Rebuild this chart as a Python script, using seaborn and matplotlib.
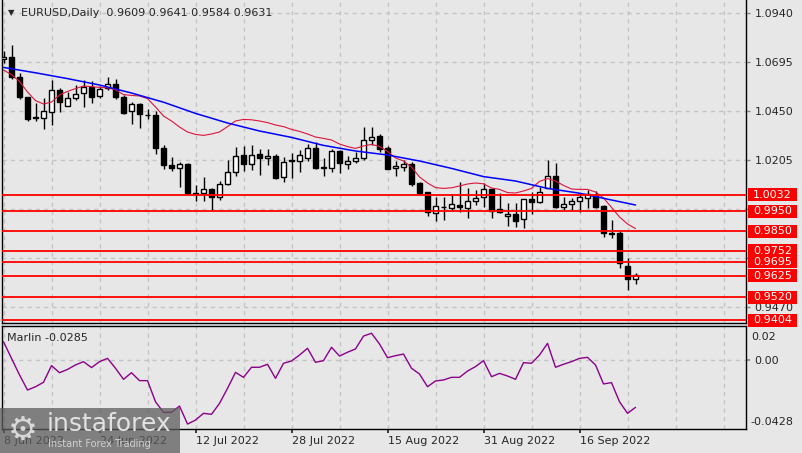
import numpy as np
import pandas as pd
import matplotlib
matplotlib.use('Agg')
import matplotlib.pyplot as plt
import matplotlib.transforms as mtransforms
from matplotlib.patches import Rectangle
import seaborn as sns

# daily EURUSD candles, 8 Jun 2022 .. 27 Sep 2022
opens = [1.0708, 1.0722, 1.0622, 1.0520, 1.0420, 1.0417, 1.0447, 1.0553, 1.0477, 1.0513,
         1.0538, 1.0570, 1.0527, 1.0563, 1.0586, 1.0520, 1.0450, 1.0486, 1.0432, 1.0428,
         1.0266, 1.0182, 1.0163, 1.0186, 1.0042, 1.0039, 1.0062, 1.0019, 1.0085, 1.0147,
         1.0230, 1.0183, 1.0233, 1.0213, 1.0225, 1.0118, 1.0205, 1.0200, 1.0213, 1.0267,
         1.0166, 1.0167, 1.0250, 1.0183, 1.0200, 1.0217, 1.0305, 1.0325, 1.0267, 1.0163,
         1.0172, 1.0183, 1.0092, 1.0047, 0.9942, 0.9968, 0.9967, 0.9980, 0.9967, 1.0000,
         1.0019, 1.0058, 0.9960, 0.9925, 0.9935, 0.9909, 1.0008, 0.9997, 1.0063, 1.0125,
         0.9972, 0.9983, 1.0001, 1.0013, 1.0025, 0.9975, 0.9836, 0.9838, 0.9675, 0.9609]
highs = [1.0752, 1.0778, 1.0640, 1.0522, 1.0488, 1.0515, 1.0604, 1.0563, 1.0546, 1.0582,
         1.0607, 1.0600, 1.0575, 1.0620, 1.0608, 1.0528, 1.0495, 1.0488, 1.0462, 1.0452,
         1.0278, 1.0220, 1.0195, 1.0190, 1.0080, 1.0122, 1.0066, 1.0100, 1.0203, 1.0270,
         1.0275, 1.0280, 1.0260, 1.0258, 1.0235, 1.0220, 1.0240, 1.0254, 1.0283, 1.0293,
         1.0213, 1.0262, 1.0255, 1.0227, 1.0243, 1.0372, 1.0370, 1.0333, 1.0273, 1.0200,
         1.0205, 1.0197, 1.0094, 1.0047, 1.0020, 1.0020, 1.0035, 1.0097, 1.0063, 1.0055,
         1.0088, 1.0060, 1.0042, 0.9988, 0.9992, 1.0010, 1.0047, 1.0072, 1.0205, 1.0188,
         1.0019, 1.0017, 1.0036, 1.0055, 1.0050, 0.9980, 0.9905, 0.9851, 0.9713, 0.9641]
lows = [1.0688, 1.0612, 1.0508, 1.0398, 1.0398, 1.0360, 1.0380, 1.0447, 1.0476, 1.0505,
        1.0470, 1.0490, 1.0515, 1.0555, 1.0510, 1.0435, 1.0385, 1.0366, 1.0410, 1.0236,
        1.0162, 1.0148, 1.0072, 1.0037, 1.0000, 0.9998, 0.9953, 1.0005, 1.0080, 1.0124,
        1.0150, 1.0155, 1.0130, 1.0180, 1.0110, 1.0096, 1.0115, 1.0145, 1.0198, 1.0160,
        1.0127, 1.0145, 1.0141, 1.0162, 1.0190, 1.0207, 1.0280, 1.0247, 1.0158, 1.0127,
        1.0150, 1.0075, 1.0033, 0.9926, 0.9900, 0.9905, 0.9948, 0.9946, 0.9915, 0.9980,
        0.9972, 0.9913, 0.9940, 0.9875, 0.9868, 0.9866, 0.9933, 0.9992, 1.0063, 0.9963,
        0.9955, 0.9955, 0.9944, 0.9967, 0.9966, 0.9822, 0.9813, 0.9663, 0.9555, 0.9584]
closes = [1.0719, 1.0618, 1.0520, 1.0410, 1.0413, 1.0449, 1.0555, 1.0497, 1.0513, 1.0534,
          1.0570, 1.0521, 1.0558, 1.0586, 1.0520, 1.0442, 1.0486, 1.0434, 1.0428, 1.0266,
          1.0180, 1.0163, 1.0187, 1.0040, 1.0034, 1.0058, 1.0018, 1.0083, 1.0143, 1.0227,
          1.0183, 1.0232, 1.0217, 1.0225, 1.0117, 1.0197, 1.0198, 1.0230, 1.0263, 1.0167,
          1.0168, 1.0250, 1.0188, 1.0200, 1.0217, 1.0305, 1.0322, 1.0259, 1.0160, 1.0175,
          1.0185, 1.0085, 1.0039, 0.9943, 0.9975, 0.9972, 0.9983, 0.9968, 0.9999, 1.0017,
          1.0060, 0.9950, 0.9947, 0.9935, 0.9902, 1.0008, 0.9997, 1.0047, 1.0125, 0.9972,
          0.9983, 0.9999, 1.0018, 1.0033, 0.9972, 0.9838, 0.9838, 0.9688, 0.9608, 0.9631]

# fast MA (red), one value per bar
fast_ma = [1.0655, 1.0632, 1.0598, 1.0545, 1.0502, 1.0485, 1.0495, 1.0530, 1.0548, 1.0562,
           1.0575, 1.0572, 1.0568, 1.0566, 1.0556, 1.0532, 1.0528, 1.0525, 1.0512, 1.0470,
           1.0425, 1.0400, 1.0370, 1.0345, 1.0333, 1.0328, 1.0335, 1.0345, 1.0372, 1.0400,
           1.0408, 1.0406, 1.0400, 1.0392, 1.0380, 1.0372, 1.0358, 1.0348, 1.0335, 1.0320,
           1.0313, 1.0305, 1.0285, 1.0272, 1.0263, 1.0275, 1.0283, 1.0273, 1.0248, 1.0215,
           1.0200, 1.0170, 1.0120, 1.0090, 1.0067, 1.0063, 1.0066, 1.0075, 1.0085, 1.0090,
           1.0086, 1.0065, 1.0058, 1.0042, 1.0040, 1.0050, 1.0063, 1.0098, 1.0112, 1.0100,
           1.0078, 1.0060, 1.0058, 1.0058, 1.0045, 1.0015, 0.9968, 0.9920, 0.9885, 0.9862]

# slow MA (blue), read every few bars
slow_bars = [0, 4, 8, 12, 16, 20, 24, 28, 32, 36, 40, 44, 48, 52, 56, 60, 64, 68, 72, 76, 79]
slow_ma = [1.0668, 1.0641, 1.0612, 1.0580, 1.0540, 1.0494, 1.0438, 1.0390, 1.0350, 1.0318,
           1.0278, 1.0250, 1.0230, 1.0200, 1.0163, 1.0122, 1.0100, 1.0063, 1.0039, 1.0005, 0.9980]

# Marlin oscillator, one value per bar
marlin = [0.0111, 0.0010, -0.0090, -0.0182, -0.0162, -0.0135, -0.0034, -0.0077, -0.0057, -0.0030,
          -0.0010, -0.0046, -0.0010, 0.0010, -0.0050, -0.0117, -0.0077, -0.0125, -0.0125, -0.0253,
          -0.0317, -0.0317, -0.0279, -0.0388, -0.0364, -0.0323, -0.0329, -0.0263, -0.0172, -0.0075,
          -0.0105, -0.0044, -0.0044, -0.0026, -0.0111, -0.0020, -0.0006, 0.0030, 0.0071, -0.0014,
          -0.0004, 0.0077, 0.0024, 0.0047, 0.0067, 0.0145, 0.0162, 0.0097, 0.0014, 0.0026,
          0.0036, -0.0050, -0.0085, -0.0162, -0.0127, -0.0121, -0.0105, -0.0105, -0.0067, -0.0040,
          -0.0004, -0.0101, -0.0081, -0.0097, -0.0117, -0.0016, -0.0020, 0.0030, 0.0101, -0.0044,
          -0.0026, -0.0010, 0.0010, 0.0016, -0.0030, -0.0145, -0.0137, -0.0253, -0.0323, -0.0287]

levels = [1.0032, 0.9950, 0.9850, 0.9752, 0.9695, 0.9625, 0.9520, 0.9404]
price_ticks = [1.0940, 1.0695, 1.0450, 1.0205, 0.9960, 0.9715, 0.9470]
date_bars = [0, 12, 24, 36, 48, 60, 72]
date_labels = ['8 Jun 2022', '24 Jun 2022', '12 Jul 2022', '28 Jul 2022',
               '15 Aug 2022', '31 Aug 2022', '16 Sep 2022']
title = 'EURUSD,Daily  0.9609 0.9641 0.9584 0.9631'
marlin_label = 'Marlin -0.0285'

BG = '#e7e7e7'
GRID = '#c4c4c4'
sns.set_theme(style='white', rc={'axes.facecolor': BG, 'figure.facecolor': BG,
                                 'axes.edgecolor': 'black', 'axes.linewidth': 1.0})
plt.rcParams['font.family'] = ['DejaVu Sans']
plt.rcParams['font.size'] = 8

W, H = 803, 453
fig = plt.figure(figsize=(W / 100, H / 100), dpi=100)
ax = fig.add_axes([2.5 / W, 1 - 323 / H, 743.5 / W, 323 / H])
ax2 = fig.add_axes([2.5 / W, 1 - 429 / H, 743.5 / W, 103 / H], sharex=ax)

df = pd.DataFrame({'o': opens, 'h': highs, 'l': lows, 'c': closes})
df['bar'] = np.arange(len(df))
up = df['c'] >= df['o']

# grid
for b in range(0, 93, 6):
    for a in (ax, ax2):
        a.axvline(b, color=GRID, lw=1, ls=(0, (3, 3)), zorder=0)
for p in price_ticks:
    ax.axhline(p, color=GRID, lw=1, ls=(0, (3, 3)), zorder=0)
ax2.axhline(0.0, color=GRID, lw=1, ls=(0, (3, 3)), zorder=0)

# candles
ax.vlines(df['bar'], df['l'], df['h'], color='black', lw=1, zorder=3)
body_bot = df[['o', 'c']].min(axis=1)
body_h = (df['c'] - df['o']).abs().clip(lower=0.0002)
ax.bar(df['bar'][up], body_h[up], bottom=body_bot[up], width=0.62,
       color='white', edgecolor='black', lw=1, zorder=4)
ax.bar(df['bar'][~up], body_h[~up], bottom=body_bot[~up], width=0.62,
       color='black', edgecolor='black', lw=1, zorder=4)

# moving averages
sns.lineplot(x=np.arange(len(fast_ma)), y=fast_ma, ax=ax, color='#dc143c', lw=0.8, zorder=5)
sns.lineplot(x=slow_bars, y=slow_ma, ax=ax, color='#0000ff', lw=1.1, zorder=5)

# horizontal levels with red price boxes
blend = mtransforms.blended_transform_factory(ax.transAxes, ax.transData)
for lv in levels:
    ax.axhline(lv, color='#ff0000', lw=1.3, zorder=6)
    ax.add_patch(Rectangle((1.0027, lv - 0.00325), 0.0659, 0.0065, transform=blend,
                           facecolor='#ff0000', edgecolor='none', clip_on=False, zorder=20))
    ax.text(1.0027 + 0.033, lv, f'{lv:.4f}', transform=blend, color='white',
            ha='center', va='center', fontsize=8, zorder=21)

ax.set_xlim(-0.125, 92.81)
ax.set_ylim(0.9390, 1.1005)
ax.yaxis.tick_right()
ax.set_yticks(price_ticks)
ax.set_yticklabels([f'{p:.4f}' for p in price_ticks])
ax.tick_params(axis='y', right=True, length=3, width=1, pad=3, labelsize=8, color='#888888')
ax.tick_params(axis='x', bottom=False, labelbottom=False)
ax.spines['top'].set_visible(False)

# Marlin panel
sns.lineplot(x=np.arange(len(marlin)), y=marlin, ax=ax2, color='#8b008b', lw=1, zorder=5)
ax2.set_ylim(-0.0418, 0.0206)
ax2.yaxis.tick_right()
ax2.set_yticks([0.0])
ax2.set_yticklabels(['0.00'])
ax2.tick_params(axis='y', right=True, length=3, pad=3, labelsize=8, color='#888888')
ax2.set_xticks(date_bars)
ax2.set_xticklabels(date_labels, ha='left')
ax2.tick_params(axis='x', bottom=True, length=3, pad=2, labelsize=8)
ax2.set_xlabel('')
ax2.set_ylabel('')
ax.set_xlabel('')
ax.set_ylabel('')
fig.text(751 / W, 1 - 337 / H, '0.02', va='center', ha='left', fontsize=8)
fig.text(750 / W, 1 - 422 / H, '-0.0428', va='center', ha='left', fontsize=8)

# titles
fig.text(11.5 / W, 1 - 12.5 / H, '▼', fontsize=6, ha='center', va='center')
fig.text(21 / W, 1 - 13 / H, title, fontsize=8, va='center', ha='left')
fig.text(7 / W, 1 - 338 / H, marlin_label, fontsize=8, va='center', ha='left')

# watermark
fig.add_artist(Rectangle((0, 0), 180 / W, 45 / H, transform=fig.transFigure,
                         facecolor='#5c5c5c', alpha=0.75, edgecolor='none', zorder=30))
fig.text(23 / W, 1 - 430 / H, '⚙', fontsize=24, color='#d8d8d8', ha='center', va='center', zorder=31)
fig.text(47 / W, 1 - 424 / H, 'instaforex', fontsize=18, color='#e2e2e2', ha='left', va='center', zorder=31)
fig.text(48 / W, 1 - 444 / H, 'Instant Forex Trading', fontsize=7, color='#d0d0d0', ha='left', va='center', zorder=31)

fig.savefig('out.png', dpi=100)
